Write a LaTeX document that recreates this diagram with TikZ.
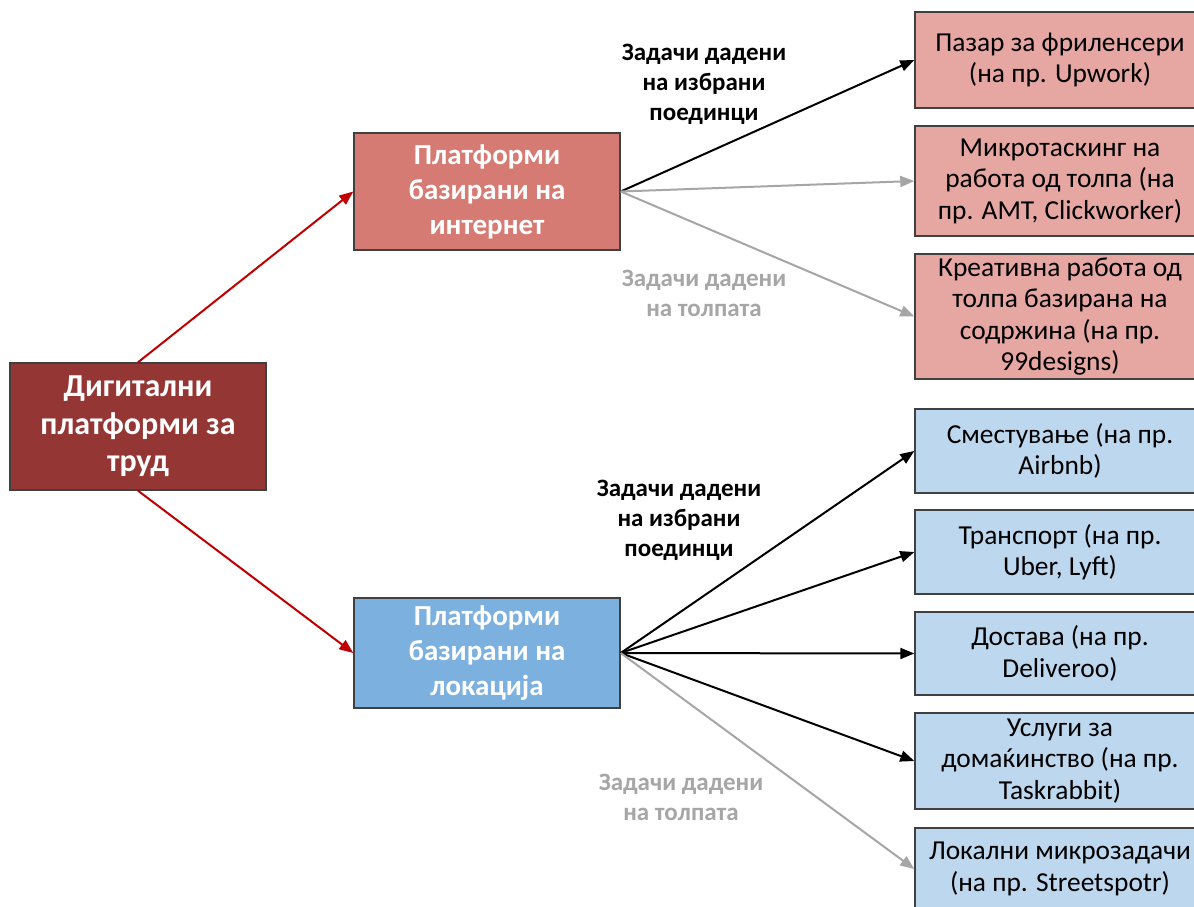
\documentclass[tikz,border=0pt]{standalone}
\usepackage{fontspec}
\setmainfont{Carlito}
\usetikzlibrary{arrows.meta}
\definecolor{rootred}{HTML}{943634}
\definecolor{netred}{HTML}{D67B73}
\definecolor{locblue}{HTML}{7CB0DF}
\definecolor{pinkbox}{HTML}{E6A6A2}
\definecolor{bluebox}{HTML}{BDD7EE}
\definecolor{edgegray}{HTML}{404040}
\definecolor{arrred}{HTML}{C00000}
\definecolor{arrgray}{HTML}{A6A6A6}
\tikzset{
  box/.style={draw=edgegray, line width=1.4pt, rectangle, align=center, inner sep=0pt},
  rootbox/.style={box, fill=rootred, text=white, font=\bfseries\fontsize{32}{37.5}\selectfont,
    minimum width=256pt, minimum height=127pt},
  midbox/.style={box, text=white, font=\bfseries\fontsize{29}{35}\selectfont,
    minimum width=266pt},
  leafbox/.style={box, font=\fontsize{27.4}{31.5}\selectfont, minimum width=290pt},
  tag/.style={align=center, font=\bfseries\fontsize{25}{30}\selectfont},
  link/.style={line width=2pt, -{Triangle[length=14pt,width=11pt]}},
}
\begin{document}
\begin{tikzpicture}[x=1pt,y=-1pt]
\useasboundingbox (0,0) rectangle (1194,906);
\clip (0,0) rectangle (1194,906);
\fill[white] (0,0) rectangle (1194,906);

% root and the two platform families
\node[rootbox] (root) at (138,426.5) {Дигитални\\платформи за\\труд};
\node[midbox, fill=netred, minimum height=117pt] (net) at (487,191.5) {Платформи\\базирани на\\интернет};
\node[midbox, fill=locblue, minimum height=110pt] (loc) at (487,653) {Платформи\\базирани на\\локација};

% web-based platform types
\node[leafbox, fill=pinkbox, minimum height=96pt] (p1) at (1060,60) {Пазар за фриленсери\\(на пр. Upwork)};
\node[leafbox, fill=pinkbox, minimum height=110pt] (p2) at (1060,181) {Микротаскинг на\\работа од толпа (на\\пр. AMT, Clickworker)};
\node[leafbox, fill=pinkbox, minimum height=125pt] (p3) at (1060,316.5) {Креативна работа од\\толпа базирана на\\содржина (на пр.\\99designs)};

% location-based platform types
\node[leafbox, fill=bluebox, minimum height=84pt] (b1) at (1060,451) {Сместување (на пр.\\Airbnb)};
\node[leafbox, fill=bluebox, minimum height=84pt] (b2) at (1060,552) {Транспорт (на пр.\\Uber, Lyft)};
\node[leafbox, fill=bluebox, minimum height=83pt] (b3) at (1060,653.5) {Достава (на пр.\\Deliveroo)};
\node[leafbox, fill=bluebox, minimum height=96pt] (b4) at (1060,761) {Услуги за\\домаќинство (на пр.\\Taskrabbit)};
\node[leafbox, fill=bluebox, minimum height=82pt] (b5) at (1060,869) {Локални микрозадачи\\(на пр. Streetspotr)};

% edge labels
\node[tag] (t1) at (704,84) {Задачи дадени\\на избрани\\поединци};
\node[tag, text=arrgray] (t2) at (704,293) {Задачи дадени\\на толпата};
\node[tag] (t3) at (679,520) {Задачи дадени\\на избрани\\поединци};
\node[tag, text=arrgray] (t4) at (681,797) {Задачи дадени\\на толпата};

% connectors
\draw[link, arrred] (root.north) -- (net.west);
\draw[link, arrred] (root.south) -- (loc.west);

\draw[link, black] (net.east) -- (p1.west);
\draw[link, arrgray] (net.east) -- (p2.west);
\draw[link, arrgray] (net.east) -- (p3.west);

\draw[link, black] (loc.east) -- (b1.west);
\draw[link, black] (loc.east) -- (b2.west);
\draw[link, black] (loc.east) -- (b3.west);
\draw[link, black] (loc.east) -- (b4.west);
\draw[link, arrgray] (loc.east) -- (b5.west);
\end{tikzpicture}
\end{document}
